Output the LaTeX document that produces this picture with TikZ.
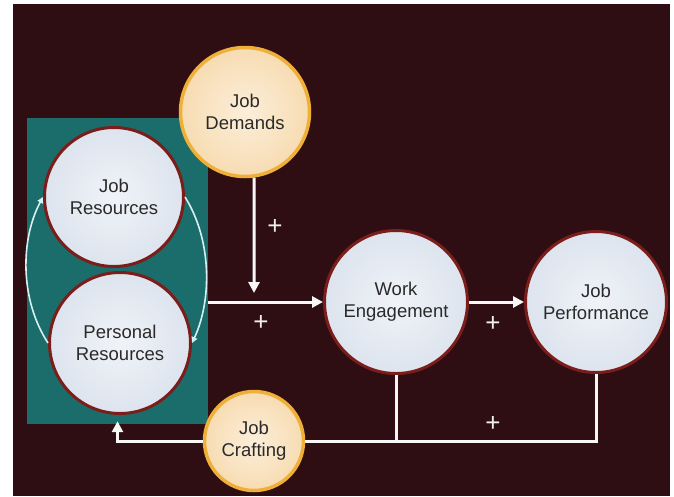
\documentclass[tikz,border=0pt]{standalone}
\usepackage{fontspec}
\setmainfont{Liberation Sans}
\usetikzlibrary{arrows.meta}
\definecolor{bgdark}{HTML}{2E0E12}
\definecolor{tealbox}{HTML}{1A6D6B}
\definecolor{redborder}{HTML}{7B1D1B}
\definecolor{goldborder}{HTML}{F0B038}
\definecolor{bluefillin}{HTML}{F0F3F8}
\definecolor{bluefillout}{HTML}{DDE4EE}
\definecolor{peachin}{HTML}{FCEEDA}
\definecolor{peachout}{HTML}{F7DCB2}
\definecolor{txt}{HTML}{2A2A2A}
\definecolor{curvecol}{HTML}{D6F0F2}
\begin{document}
\begin{tikzpicture}[x=1pt,y=-1pt,
  every node/.style={font=\fontsize{18.5}{22}\selectfont, text=txt, align=center},
  bluecirc/.style={circle, draw=redborder, line width=3pt, inner color=bluefillin, outer color=bluefillout, minimum size=#1, inner sep=0pt},
  peachcirc/.style={circle, draw=goldborder, line width=3.5pt, inner color=peachin, outer color=peachout, minimum size=#1, inner sep=0pt},
  plus/.style={text=white!88!gray, font=\fontsize{26}{26}\selectfont\addfontfeatures{FakeBold=-0.3}},
  arr/.style={draw=white!94!gray, line width=3pt, -{Triangle[length=11pt,width=11pt]}},
  plainline/.style={draw=white!94!gray, line width=3pt},
  curvearr/.style={draw=curvecol, line width=1.6pt, -{Triangle[length=6pt,width=6pt]}}
]
\useasboundingbox (0,0) rectangle (674,496);
\fill[white] (0,0) rectangle (674,496);
\fill[bgdark] (13,4) rectangle (670,496);
\node[rectangle, fill=tealbox, minimum width=181pt, minimum height=306pt, inner sep=0pt] (box) at (117.5,271) {};

\node[bluecirc=139pt] (JR) at (114,197) {Job\\Resources};
\node[bluecirc=141pt] (PR) at (120,343) {Personal\\Resources};
\node[peachcirc=129pt] (JD) at (245,112) {Job\\Demands};
\node[bluecirc=143pt] (WE) at (396,302) {Work\\Engagement};
\node[bluecirc=141pt] (JP) at (596,302) {Job\\Performance};
\node[peachcirc=99pt] (JC) at (254,441) {Job\\Crafting};

\coordinate (jdtip) at (254,293);

% curved reciprocal arrows
\draw[curvearr] (PR.west) .. controls (20,300) and (20,240) .. (JR.west);
\draw[curvearr] (JR.east) .. controls (212,240) and (212,300) .. (PR.east);

% main arrows
\draw[arr] (JD.-82) -- (jdtip);
\draw[arr] (box.east |- WE.west) -- (WE.west);
\draw[arr] (WE.east) -- (JP.west);

% feedback
\draw[plainline] (JP.south) |- (JC.east);
\draw[plainline] (WE.south) -- (WE.south |- JC.east);
\draw[arr, shorten >=-3pt] (JC.west) -| (box.south);

% signs
\node[plus] (p1) at (275,227) {+};
\node[plus] (p2) at (261,323) {+};
\node[plus] (p3) at (493,324) {+};
\node[plus] (p4) at (493,424) {+};
\end{tikzpicture}
\end{document}
